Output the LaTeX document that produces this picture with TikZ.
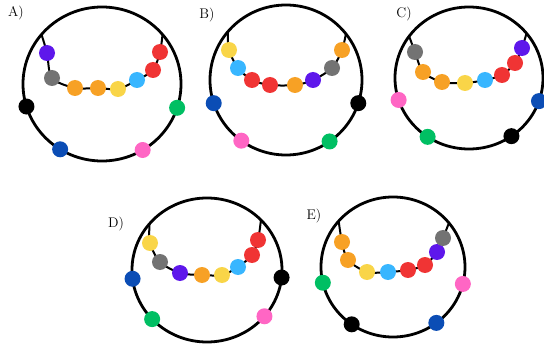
\documentclass[tikz,border=0pt]{standalone}
\usepackage{xcolor}
\usepackage{tikz}
\definecolor{bpurple}{HTML}{5E17EB}
\definecolor{bgray}{HTML}{737373}
\definecolor{borange}{HTML}{F7A125}
\definecolor{byellow}{HTML}{F9D548}
\definecolor{blight}{HTML}{38B6FF}
\definecolor{bred}{HTML}{F03434}
\definecolor{bblue}{HTML}{0B4DB5}
\definecolor{bpink}{HTML}{FF66C4}
\definecolor{bgreen}{HTML}{00BF63}
\tikzset{
  ring/.style={draw=black, line width=2.8pt},
  thread/.style={draw=black, line width=2pt},
  bead/.style={circle, inner sep=0pt, minimum size=16pt},
  plabel/.style={font=\fontsize{14}{16}\selectfont}
}

\begin{document}
\begin{tikzpicture}[x=1pt, y=-1pt]
\useasboundingbox[fill=white] (0,0) rectangle (544,350);

% A
\node[plabel] (labA) at (16,13) {A)};
\coordinate (ca) at (102,84);
\draw[ring] (ca) ellipse (79 and 77);
\coordinate (a0) at ([shift={(ca)}]-140:79 and 77);
\coordinate (a9) at ([shift={(ca)}]-40:79 and 77);
\foreach \x/\y [count=\i] in {47/53, 52/78, 75/88, 98/88, 118/89, 137/80, 153/70, 160/52}
  \coordinate (a\i) at (\x,\y);
\draw[thread] plot[smooth] coordinates {(a0) (a1) (a2) (a3) (a4) (a5) (a6) (a7) (a8) (a9)};
\foreach \c [count=\i] in {bpurple, bgray, borange, borange, byellow, blight, bred, bred}
  \node[bead, fill=\c] (abead\i) at (a\i) {};
\foreach \c/\a in {black/163, bblue/122, bpink/59, bgreen/18}
  \node[bead, fill=\c] (alow-\c) at ([shift={(ca)}]\a:79 and 77) {};

% B
\node[plabel] (labB) at (207,15) {B)};
\coordinate (cb) at (286,80);
\draw[ring] (cb) ellipse (76 and 75);
\coordinate (b0) at ([shift={(cb)}]-140:76 and 75);
\coordinate (b9) at ([shift={(cb)}]-38:76 and 75);
\foreach \x/\y [count=\i] in {229/50, 238/68, 252/80, 270/85, 295/85, 313/80, 332/68, 342/50}
  \coordinate (b\i) at (\x,\y);
\draw[thread] plot[smooth] coordinates {(b0) (b1) (b2) (b3) (b4) (b5) (b6) (b7) (b8) (b9)};
\foreach \c [count=\i] in {byellow, blight, bred, bred, borange, bpurple, bgray, borange}
  \node[bead, fill=\c] (bbead\i) at (b\i) {};
\foreach \c/\a in {bblue/162, bpink/126, bgreen/55, black/18}
  \node[bead, fill=\c] (blow-\c) at ([shift={(cb)}]\a:76 and 75) {};

% C
\node[plabel] (labC) at (404,14) {C)};
\coordinate (cc) at (469,78);
\draw[ring] (cc) ellipse (74 and 71);
\coordinate (c0) at ([shift={(cc)}]-144:74 and 71);
\coordinate (c9) at ([shift={(cc)}]-39:74 and 71);
\foreach \x/\y [count=\i] in {415/52, 423/72, 442/82, 465/83, 485/80, 502/75, 515/63, 522/48}
  \coordinate (c\i) at (\x,\y);
\draw[thread] plot[smooth] coordinates {(c0) (c1) (c2) (c3) (c4) (c5) (c6) (c7) (c8) (c9)};
\foreach \c [count=\i] in {bgray, borange, borange, byellow, blight, bred, bred, bpurple}
  \node[bead, fill=\c] (cbead\i) at (c\i) {};
\foreach \c/\a in {bpink/162, bgreen/124, black/55, bblue/19}
  \node[bead, fill=\c] (clow-\c) at ([shift={(cc)}]\a:74 and 71) {};

% D
\node[plabel] (labD) at (116,224) {D)};
\coordinate (cd) at (207,270);
\draw[ring] (cd) ellipse (75 and 72);
\coordinate (d0) at ([shift={(cd)}]-140:75 and 72);
\coordinate (d9) at ([shift={(cd)}]-44:75 and 72);
\foreach \x/\y [count=\i] in {150/243, 160/262, 180/273, 202/275, 222/275, 238/267, 252/255, 258/240}
  \coordinate (d\i) at (\x,\y);
\draw[thread] plot[smooth] coordinates {(d0) (d1) (d2) (d3) (d4) (d5) (d6) (d7) (d8) (d9)};
\foreach \c [count=\i] in {byellow, bgray, bpurple, borange, byellow, blight, bred, bred}
  \node[bead, fill=\c] (dbead\i) at (d\i) {};
\foreach \c/\a in {bblue/173, bgreen/137, bpink/40, black/6}
  \node[bead, fill=\c] (dlow-\c) at ([shift={(cd)}]\a:75 and 72) {};

% E
\node[plabel] (labE) at (314,216) {E)};
\coordinate (ce) at (393,267);
\draw[ring] (ce) ellipse (72 and 70);
\coordinate (e0) at ([shift={(ce)}]-139:72 and 70);
\coordinate (e9) at ([shift={(ce)}]-39:72 and 70);
\foreach \x/\y [count=\i] in {342/242, 348/260, 367/272, 388/272, 408/270, 425/265, 437/252, 443/238}
  \coordinate (e\i) at (\x,\y);
\draw[thread] plot[smooth] coordinates {(e0) (e1) (e2) (e3) (e4) (e5) (e6) (e7) (e8) (e9)};
\foreach \c [count=\i] in {borange, borange, byellow, blight, bred, bred, bpurple, bgray}
  \node[bead, fill=\c] (ebead\i) at (e\i) {};
\foreach \c/\a in {bgreen/167, black/125, bblue/53, bpink/14}
  \node[bead, fill=\c] (elow-\c) at ([shift={(ce)}]\a:72 and 70) {};
\end{tikzpicture}
\end{document}
